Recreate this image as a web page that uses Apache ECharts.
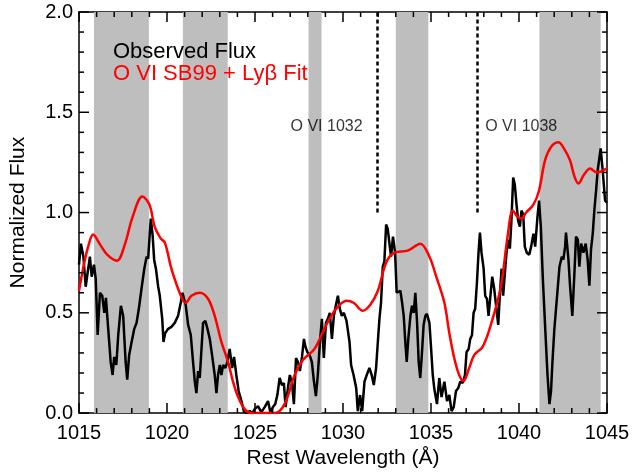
<!DOCTYPE html>
<html>
<head>
<meta charset="utf-8">
<script src="https://cdn.jsdelivr.net/npm/echarts@6.0.0/dist/echarts.min.js"></script>
<style>
  body { margin: 0; background: #fff; }
  #chart { width: 633px; height: 474px; }
</style>
</head>
<body>
<div id="chart"></div>
<script>
  // observed spectrum (rest wavelength, normalized flux)
  var obsWave = [1015.00,1015.11,1015.25,1015.38,1015.49,1015.62,1015.72,1015.85,1015.95,1016.06,1016.19,1016.32,1016.44,1016.53,1016.66,1016.80,1016.91,1017.00,1017.12,1017.23,1017.38,1017.51,1017.65,1017.74,1017.85,1017.99,1018.14,1018.27,1018.40,1018.55,1018.71,1018.84,1018.93,1019.01,1019.08,1019.18,1019.27,1019.37,1019.50,1019.59,1019.73,1019.80,1019.90,1020.07,1020.25,1020.44,1020.63,1020.78,1020.88,1020.97,1021.07,1021.20,1021.35,1021.48,1021.58,1021.67,1021.77,1021.86,1021.96,1022.05,1022.18,1022.30,1022.43,1022.56,1022.71,1022.81,1022.90,1023.00,1023.09,1023.19,1023.32,1023.43,1023.56,1023.70,1023.81,1023.94,1024.07,1024.23,1024.38,1024.55,1024.70,1024.85,1024.98,1025.17,1025.36,1025.55,1025.74,1025.87,1026.02,1026.15,1026.27,1026.40,1026.53,1026.64,1026.74,1026.87,1026.98,1027.10,1027.21,1027.33,1027.44,1027.55,1027.67,1027.78,1027.87,1027.97,1028.10,1028.23,1028.35,1028.46,1028.57,1028.69,1028.80,1028.91,1029.03,1029.14,1029.25,1029.37,1029.48,1029.59,1029.71,1029.82,1029.93,1030.05,1030.20,1030.37,1030.46,1030.60,1030.75,1030.84,1030.97,1031.09,1031.22,1031.35,1031.50,1031.63,1031.75,1031.88,1031.98,1032.07,1032.16,1032.26,1032.35,1032.45,1032.54,1032.64,1032.73,1032.84,1032.96,1033.05,1033.15,1033.26,1033.36,1033.45,1033.54,1033.62,1033.71,1033.83,1033.92,1034.02,1034.11,1034.21,1034.30,1034.39,1034.49,1034.58,1034.68,1034.77,1034.91,1035.00,1035.10,1035.19,1035.34,1035.47,1035.60,1035.76,1035.91,1036.04,1036.17,1036.29,1036.42,1036.55,1036.66,1036.80,1036.93,1037.02,1037.14,1037.23,1037.33,1037.42,1037.51,1037.61,1037.70,1037.78,1037.87,1037.99,1038.08,1038.18,1038.27,1038.36,1038.48,1038.59,1038.70,1038.82,1038.91,1039.01,1039.10,1039.20,1039.29,1039.39,1039.48,1039.57,1039.67,1039.76,1039.86,1039.95,1040.05,1040.14,1040.24,1040.33,1040.44,1040.58,1040.69,1040.82,1040.92,1041.05,1041.14,1041.24,1041.35,1041.48,1041.62,1041.73,1041.82,1041.90,1042.01,1042.15,1042.30,1042.43,1042.52,1042.62,1042.67,1042.81,1042.90,1043.03,1043.15,1043.24,1043.34,1043.43,1043.53,1043.66,1043.79,1043.90,1044.00,1044.09,1044.19,1044.28,1044.38,1044.47,1044.55,1044.64,1044.74,1044.89,1045.00];
  var obsFlux = [0.74,0.845,0.78,0.63,0.70,0.78,0.68,0.74,0.67,0.39,0.60,0.585,0.50,0.575,0.42,0.255,0.19,0.28,0.24,0.39,0.535,0.485,0.255,0.167,0.29,0.355,0.42,0.45,0.52,0.62,0.72,0.78,0.77,0.88,0.97,0.89,0.765,0.72,0.63,0.585,0.47,0.355,0.40,0.42,0.43,0.45,0.485,0.55,0.60,0.595,0.535,0.44,0.39,0.255,0.157,0.10,0.21,0.175,0.32,0.45,0.46,0.42,0.37,0.29,0.19,0.10,0.19,0.24,0.19,0.24,0.225,0.255,0.32,0.225,0.28,0.19,0.11,0.06,0.005,0.0,0.01,0.0,0.02,0.035,0.005,0.03,0.06,0.005,0.03,0.045,0.09,0.175,0.14,0.15,0.03,0.125,0.19,0.15,0.045,0.275,0.255,0.21,0.28,0.37,0.33,0.305,0.29,0.255,0.157,0.085,0.19,0.355,0.47,0.275,0.45,0.47,0.50,0.37,0.485,0.535,0.585,0.52,0.485,0.50,0.46,0.355,0.24,0.19,0.125,0.01,0.09,0.01,0.157,0.19,0.225,0.19,0.14,0.225,0.355,0.47,0.55,0.73,0.755,0.94,0.92,0.845,0.78,0.88,0.80,0.60,0.60,0.61,0.55,0.485,0.355,0.255,0.37,0.485,0.535,0.50,0.60,0.45,0.255,0.175,0.305,0.44,0.485,0.495,0.45,0.33,0.19,0.12,0.045,0.175,0.08,0.157,0.06,0.09,0.01,0.03,0.11,0.125,0.157,0.15,0.19,0.305,0.32,0.37,0.39,0.50,0.52,0.65,0.80,0.90,0.80,0.72,0.585,0.57,0.485,0.57,0.68,0.62,0.535,0.44,0.585,0.72,0.585,0.70,0.80,0.865,0.82,0.96,1.175,1.14,1.04,0.96,0.93,1.01,0.99,0.83,0.80,0.79,0.83,0.895,0.83,0.98,1.06,0.93,0.68,0.44,0.19,0.045,0.11,0.255,0.42,0.57,0.73,0.78,0.765,0.83,0.90,0.765,0.635,0.485,0.70,0.88,0.865,0.73,0.845,0.80,0.845,0.765,0.635,0.815,0.895,1.01,1.11,1.21,1.21,1.32,1.225,1.06,1.05];

  // O VI SB99 + Ly-beta model fit
  var fitWave = [1015.00,1015.30,1015.57,1015.80,1016.20,1016.60,1017.15,1017.60,1018.05,1018.60,1019.00,1019.30,1019.65,1019.88,1020.25,1020.63,1020.92,1021.05,1021.39,1021.86,1022.33,1022.71,1023.09,1023.47,1023.75,1024.04,1024.41,1024.79,1025.50,1026.12,1026.68,1027.25,1027.72,1028.38,1029.05,1029.61,1030.20,1030.60,1031.12,1031.55,1031.98,1032.45,1032.92,1033.68,1034.39,1034.91,1035.30,1035.76,1036.04,1036.32,1036.60,1036.85,1037.15,1037.46,1037.93,1038.40,1038.97,1039.35,1039.65,1039.90,1040.14,1040.40,1040.82,1041.14,1041.48,1041.85,1042.24,1042.55,1042.90,1043.15,1043.37,1043.70,1044.04,1044.41,1045.00];
  var fitFlux = [0.61,0.75,0.845,0.89,0.84,0.79,0.76,0.84,0.98,1.08,1.04,0.93,0.87,0.85,0.72,0.62,0.56,0.55,0.585,0.60,0.57,0.485,0.355,0.255,0.157,0.08,0.02,0.0,0.0,0.0,0.045,0.19,0.265,0.32,0.44,0.52,0.56,0.55,0.51,0.54,0.61,0.75,0.80,0.81,0.845,0.78,0.68,0.55,0.40,0.275,0.19,0.16,0.22,0.29,0.33,0.44,0.63,0.88,1.01,0.98,0.97,1.00,1.04,1.11,1.26,1.33,1.35,1.32,1.26,1.18,1.145,1.19,1.22,1.20,1.22];

  // shaded (masked) wavelength windows
  var bandStart = [1015.85, 1020.90, 1028.04, 1033.00, 1041.16];
  var bandEnd = [1018.97, 1023.45, 1028.78, 1034.85, 1044.64];

  // O VI doublet markers
  var lineWave = [1031.93, 1037.62];
  var lineLabels = ['O VI 1032', 'O VI 1038'];
  var labelWave = [1027.02, 1038.08];
  var labelFlux = [1.43, 1.43];

  // axis range and tick positions
  var xMin = 1015, xMax = 1045, yMin = 0, yMax = 2;
  var xMajorTicks = [1015, 1020, 1025, 1030, 1035, 1040, 1045];
  var xMinorTicks = [1016, 1017, 1018, 1019, 1021, 1022, 1023, 1024, 1026, 1027, 1028, 1029, 1031, 1032, 1033, 1034, 1036, 1037, 1038, 1039, 1041, 1042, 1043, 1044];
  var yMajorTicks = [0, 0.5, 1.0, 1.5, 2.0];
  var yMinorTicks = [0.1, 0.2, 0.3, 0.4, 0.6, 0.7, 0.8, 0.9, 1.1, 1.2, 1.3, 1.4, 1.6, 1.7, 1.8, 1.9];

  var font = 'Liberation Sans, Arial, Helvetica, sans-serif';

  function zip(a, b) {
    return a.map(function (v, i) { return [v, b[i]]; });
  }

  // tick rows: [x, y, isMajor, 0 = x tick / 1 = y tick]
  var tickRows = []
    .concat(xMajorTicks.map(function (v) { return [v, yMin, 1, 0]; }))
    .concat(xMinorTicks.map(function (v) { return [v, yMin, 0, 0]; }))
    .concat(yMajorTicks.map(function (v) { return [xMin, v, 1, 1]; }))
    .concat(yMinorTicks.map(function (v) { return [xMin, v, 0, 1]; }));

  function frame(extra) {
    var o = {
      axisLine: { show: true, onZero: false, lineStyle: { color: '#000', width: 1.5 } },
      axisTick: { show: false },
      minorTick: { show: false },
      splitLine: { show: false }
    };
    for (var k in extra) o[k] = extra[k];
    return o;
  }

  var myChart = echarts.init(document.getElementById('chart'));

  myChart.setOption({
    animation: false,
    backgroundColor: '#fff',
    grid: { left: 78, right: 26, top: 12, bottom: 55 },
    legend: {
      orient: 'vertical', left: 103, top: 36, itemWidth: 0, itemHeight: 0, itemGap: 0,
      icon: 'none', selectedMode: false,
      textStyle: { fontFamily: font, fontSize: 22 },
      data: [
        { name: 'Observed Flux', textStyle: { color: '#000' } },
        { name: 'O VI SB99 + Lyβ Fit', textStyle: { color: '#ff0000' } }
      ]
    },
    xAxis: [
      frame({
        type: 'value', min: xMin, max: xMax, interval: 5, position: 'bottom',
        name: 'Rest Wavelength (Å)', nameLocation: 'middle', nameGap: 33,
        nameTextStyle: { fontFamily: font, fontSize: 21, color: '#000' },
        axisLabel: {
          fontFamily: font, fontSize: 20, color: '#000', margin: 10,
          formatter: function (v) { return String(v); }
        }
      }),
      frame({
        type: 'value', min: xMin, max: xMax, interval: 5, position: 'top',
        axisLabel: { show: false }
      })
    ],
    yAxis: [
      frame({
        type: 'value', min: yMin, max: yMax, interval: 0.5, position: 'left',
        name: 'Normalized Flux', nameLocation: 'middle', nameGap: 50,
        nameTextStyle: { fontFamily: font, fontSize: 21, color: '#000' },
        axisLabel: {
          fontFamily: font, fontSize: 20, color: '#000', margin: 6,
          formatter: function (v) { return v.toFixed(1); }
        }
      }),
      frame({
        type: 'value', min: yMin, max: yMax, interval: 0.5, position: 'right',
        axisLabel: { show: false }
      })
    ],
    series: [
      {
        name: 'Observed Flux',
        type: 'line',
        data: zip(obsWave, obsFlux),
        symbol: 'none',
        lineStyle: { color: '#000', width: 2.5 },
        itemStyle: { color: '#000' },
        markArea: {
          silent: true,
          itemStyle: { color: '#bebebe' },
          data: bandStart.map(function (s, i) {
            return [{ xAxis: s, yAxis: yMin }, { xAxis: bandEnd[i], yAxis: yMax }];
          })
        },
        markLine: {
          silent: true,
          symbol: 'none',
          label: { show: false },
          lineStyle: { color: '#000', width: 2.5, type: [4, 3] },
          data: lineWave.map(function (w) {
            return [{ coord: [w, 1.0] }, { coord: [w, 2.0] }];
          })
        }
      },
      {
        name: 'O VI SB99 + Lyβ Fit',
        type: 'line',
        data: zip(fitWave, fitFlux),
        smooth: 0.35,
        symbol: 'none',
        lineStyle: { color: '#ff0000', width: 2.5 },
        itemStyle: { color: '#ff0000' }
      },
      {
        type: 'scatter',
        data: zip(labelWave, labelFlux),
        symbolSize: 0,
        silent: true,
        label: {
          show: true, position: 'right', distance: 0,
          fontFamily: font, fontSize: 16, color: '#000',
          formatter: function (p) { return lineLabels[p.dataIndex]; }
        }
      },
      {
        // inward ticks on all four sides of the box
        type: 'custom',
        silent: true,
        clip: false,
        z: 4,
        data: tickRows,
        encode: { x: 0, y: 1 },
        renderItem: function (params, api) {
          var len = api.value(2) ? 10 : 5;
          var segs;
          if (api.value(3) === 0) {
            var b = api.coord([api.value(0), yMin]);
            var t = api.coord([api.value(0), yMax]);
            segs = [[b[0], b[1], b[0], b[1] - len], [t[0], t[1], t[0], t[1] + len]];
          } else {
            var l = api.coord([xMin, api.value(1)]);
            var r = api.coord([xMax, api.value(1)]);
            segs = [[l[0], l[1], l[0] + len, l[1]], [r[0], r[1], r[0] - len, r[1]]];
          }
          return {
            type: 'group',
            children: segs.map(function (s) {
              return {
                type: 'line',
                shape: { x1: s[0], y1: s[1], x2: s[2], y2: s[3] },
                style: { stroke: '#000', lineWidth: 1.5 }
              };
            })
          };
        }
      }
    ]
  });
</script>
</body>
</html>
